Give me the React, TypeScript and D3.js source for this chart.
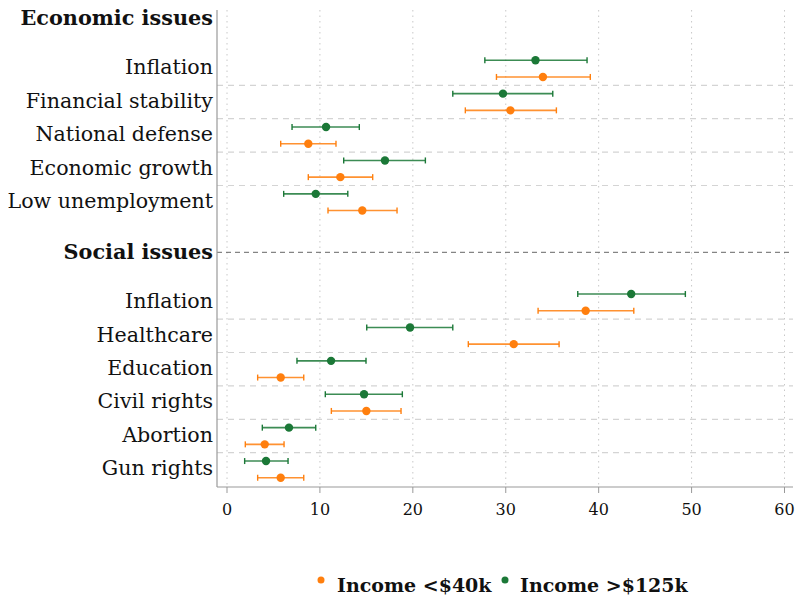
import React from "react";
import * as d3 from "d3";

const econCategories = ["Inflation", "Financial stability", "National defense", "Economic growth", "Low unemployment"];
const socialCategories = ["Inflation", "Healthcare", "Education", "Civil rights", "Abortion", "Gun rights"];

// Income < $40k (orange): [mean, low, high]
const econLow: [number, number, number][] = [
  [34.0, 29.0, 39.1],
  [30.5, 25.65, 35.45],
  [8.75, 5.78, 11.73],
  [12.2, 8.75, 15.68],
  [14.56, 10.87, 18.3],
];
// Income > $125k (green)
const econHigh: [number, number, number][] = [
  [33.2, 27.75, 38.75],
  [29.7, 24.3, 35.06],
  [10.66, 7.0, 14.24],
  [17.0, 12.56, 21.35],
  [9.55, 6.1, 13.0],
];
const socialLow: [number, number, number][] = [
  [38.6, 33.48, 43.78],
  [30.86, 25.97, 35.74],
  [5.78, 3.3, 8.26],
  [15.0, 11.23, 18.73],
  [4.06, 1.97, 6.14],
  [5.78, 3.3, 8.26],
];
const socialHigh: [number, number, number][] = [
  [43.5, 37.75, 49.33],
  [19.7, 15.04, 24.3],
  [11.2, 7.53, 14.96],
  [14.75, 10.58, 18.87],
  [6.67, 3.8, 9.55],
  [4.2, 1.9, 6.57],
];
const xTicks = [0, 10, 20, 30, 40, 50, 60];
const seriesNames = ["Income <$40k", "Income >$125k"];
const groupNames = ["Economic issues", "Social issues"];

const ORANGE = "#ff7f0e";
const GREEN = "#1b7837";
const FONT = "'DejaVu Serif', 'Liberation Serif', serif";

export default function App() {
  const W = 796, H = 596;
  const left = 217, right = 793, top = 10, bottom = 487;
  const x = d3.scaleLinear().domain([0, 60]).range([227, 784.5]);
  const y = d3.scaleLinear().domain([0, 7]).range([18.5, 252.3]);

  const groups = [
    { name: groupNames[0], start: 0, cats: econCategories, low: econLow, high: econHigh },
    { name: groupNames[1], start: 7, cats: socialCategories, low: socialLow, high: socialHigh },
  ];

  const marks: React.ReactNode[] = [];
  const errBar = (key: string, d: [number, number, number], yy: number, color: string) => (
    <g key={key}>
      <line x1={x(d[1])} x2={x(d[2])} y1={yy} y2={yy} stroke={color} strokeWidth={1.6} opacity={0.85} />
      <line x1={x(d[1])} x2={x(d[1])} y1={yy - 3} y2={yy + 3} stroke={color} strokeWidth={1.4} />
      <line x1={x(d[2])} x2={x(d[2])} y1={yy - 3} y2={yy + 3} stroke={color} strokeWidth={1.4} />
      <circle cx={x(d[0])} cy={yy} r={4.2} fill={color} />
    </g>
  );

  groups.forEach((g, gi) => {
    marks.push(
      <text key={`h${gi}`} x={213} y={y(g.start) - 1} dy="0.35em" textAnchor="end" fontFamily={FONT} fontWeight="bold" fontSize={20.8} fill="#111">
        {g.name}
      </text>
    );
    if (gi === 1) {
      marks.push(<line key={`hl${gi}`} x1={left} x2={right} y1={y(g.start)} y2={y(g.start)} stroke="#666" strokeWidth={1} strokeDasharray="5,4" />);
    }
    g.cats.forEach((c, i) => {
      const p = g.start + 1.5 + i;
      marks.push(
        <text key={`l${gi}-${i}`} x={213} y={y(p) - 1.5} dy="0.35em" textAnchor="end" fontFamily={FONT} fontSize={20.6} fill="#111">
          {c}
        </text>
      );
      if (i > 0) {
        marks.push(<line key={`s${gi}-${i}`} x1={left} x2={right} y1={y(p - 0.5)} y2={y(p - 0.5)} stroke="#d4d4d4" strokeWidth={1.2} strokeDasharray="6,5" />);
      }
      marks.push(errBar(`g${gi}-${i}`, g.high[i], y(p - 0.25), GREEN));
      marks.push(errBar(`o${gi}-${i}`, g.low[i], y(p + 0.25), ORANGE));
    });
  });

  return (
    <svg width={W} height={H} style={{ position: "absolute", left: 0, top: 0, background: "#fff" }}>
      {xTicks.map((t) => (
        <line key={`v${t}`} x1={x(t)} x2={x(t)} y1={top} y2={bottom} stroke="#c8c8c8" strokeWidth={1} strokeDasharray="1.5,4" />
      ))}
      {marks}
      <line x1={left} x2={left} y1={top} y2={bottom} stroke="#999" strokeWidth={1.2} />
      <line x1={left} x2={right} y1={bottom} y2={bottom} stroke="#999" strokeWidth={1.2} />
      {xTicks.map((t) => (
        <g key={`t${t}`}>
          <line x1={x(t)} x2={x(t)} y1={bottom} y2={bottom + 6} stroke="#999" strokeWidth={1} />
          <text x={x(t)} y={bottom + 28} textAnchor="middle" fontFamily={FONT} fontSize={16} fill="#111">
            {t}
          </text>
        </g>
      ))}
      <circle cx={321} cy={580} r={3.5} fill={ORANGE} />
      <text x={337} y={592} fontFamily={FONT} fontWeight="bold" fontSize={19} fill="#111">{seriesNames[0]}</text>
      <circle cx={505} cy={580} r={3.5} fill={GREEN} />
      <text x={520} y={592} fontFamily={FONT} fontWeight="bold" fontSize={19} fill="#111">{seriesNames[1]}</text>
    </svg>
  );
}
